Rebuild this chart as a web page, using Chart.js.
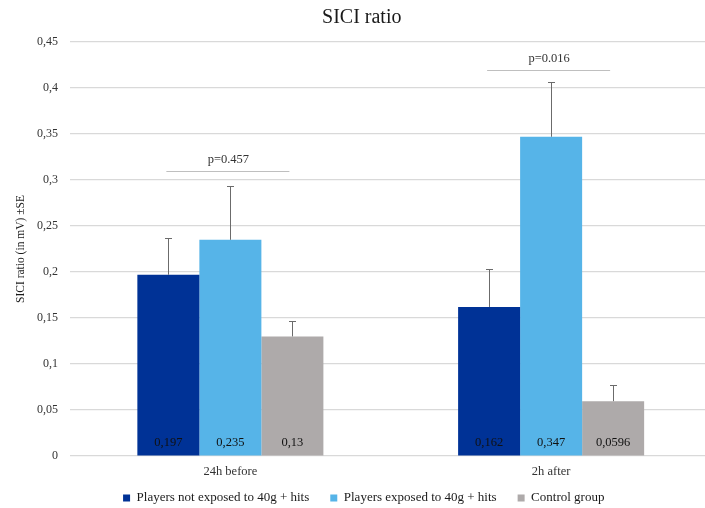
<!DOCTYPE html>
<html>
<head>
<meta charset="utf-8">
<script src="https://cdn.jsdelivr.net/npm/chart.js@4.4.1/dist/chart.umd.min.js"></script>
<style>
  html, body { margin: 0; padding: 0; background: #fff; overflow: hidden; }
  #wrap { width: 720px; height: 524px; }
</style>
</head>
<body>
<div id="wrap"><canvas id="chart"></canvas></div>
<script>
// Values
const categories = ['24h before', '2h after'];
const seriesNames = ['Players not exposed to 40g + hits', 'Players exposed to 40g + hits', 'Control group'];
const notExposed = [0.197, 0.162];
const exposed = [0.235, 0.347];
const control = [0.13, 0.0596];
// upper error (SE) for each bar
const notExposedErr = [0.04, 0.041];
const exposedErr = [0.059, 0.059];
const controlErr = [0.017, 0.018];
// p-value brackets, one per category
const pLabels = ['p=0.457', 'p=0.016'];
const pLevels = [0.31, 0.42];

const colors = ['#003296', '#56b4e8', '#aeaaaa'];
const serif = '"Liberation Serif", "Times New Roman", serif';

const fmt = (v) => String(+v.toFixed(4)).replace('.', ',');

// draws error bars, value labels and p brackets
const extras = {
  id: 'extras',
  afterLayout(chart) {
    // pull the legend up a bit, its label padding also pads vertically
    chart.legend.top -= 9.5;
    chart.legend.bottom -= 9.5;
    chart.legend.left += 8;
    chart.legend.right += 8;
    chart.titleBlock.left += 6;
    chart.titleBlock.right += 6;
  },
  afterDatasetsDraw(chart) {
    const ctx = chart.ctx;
    const y = chart.scales.y;
    const errs = [notExposedErr, exposedErr, controlErr];
    ctx.save();
    chart.data.datasets.forEach((ds, di) => {
      chart.getDatasetMeta(di).data.forEach((bar, i) => {
        const top = y.getPixelForValue(ds.data[i] + errs[di][i]);
        ctx.strokeStyle = '#6b6b6b';
        ctx.lineWidth = 1;
        ctx.beginPath();
        ctx.moveTo(Math.round(bar.x) + 0.5, bar.y);
        ctx.lineTo(Math.round(bar.x) + 0.5, Math.round(top));
        ctx.moveTo(Math.round(bar.x) - 3, Math.round(top) + 0.5);
        ctx.lineTo(Math.round(bar.x) + 4, Math.round(top) + 0.5);
        ctx.stroke();
        // value label near the base
        ctx.fillStyle = '#111';
        ctx.font = '12.5px ' + serif;
        ctx.textAlign = 'center';
        ctx.textBaseline = 'middle';
        ctx.fillText(fmt(ds.data[i]), bar.x, y.getPixelForValue(0) - 13);
      });
    });
    // p brackets from first to last bar of each group
    const first = chart.getDatasetMeta(0).data;
    const last = chart.getDatasetMeta(2).data;
    pLabels.forEach((label, i) => {
      const py = Math.round(y.getPixelForValue(pLevels[i])) + 0.5;
      ctx.strokeStyle = '#bfbfbf';
      ctx.lineWidth = 1.2;
      ctx.beginPath();
      ctx.moveTo(first[i].x - 2, py);
      ctx.lineTo(last[i].x - 3, py);
      ctx.stroke();
      ctx.fillStyle = '#333';
      ctx.font = '12.5px ' + serif;
      ctx.textAlign = 'center';
      ctx.textBaseline = 'middle';
      ctx.fillText(label, (first[i].x + last[i].x) / 2 - 2, py - 12);
    });
    ctx.restore();
  }
};

new Chart(document.getElementById('chart'), {
  type: 'bar',
  plugins: [extras],
  data: {
    labels: categories,
    datasets: [
      { label: seriesNames[0], data: notExposed, backgroundColor: colors[0] },
      { label: seriesNames[1], data: exposed, backgroundColor: colors[1] },
      { label: seriesNames[2], data: control, backgroundColor: colors[2] },
    ],
  },
  options: {
    responsive: true,
    maintainAspectRatio: false,
    animation: false,
    layout: { padding: { top: 0, right: 8.5, bottom: 0, left: 0 } },
    datasets: { bar: { barPercentage: 1, categoryPercentage: 0.58 } },
    plugins: {
      tooltip: { enabled: false },
      title: {
        display: true,
        text: 'SICI ratio',
        color: '#1a1a1a',
        font: { family: serif, size: 20, weight: 'normal' },
        padding: { top: 6, bottom: 12 },
      },
      legend: {
        position: 'bottom',
        labels: {
          color: '#1a1a1a',
          font: { family: serif, size: 13 },
          boxWidth: 7,
          boxHeight: 7,
          padding: 21,
        },
      },
    },
    scales: {
      x: {
        afterFit(scale) { scale.height = 24; },
        grid: { display: false, drawTicks: false },
        border: { display: false },
        ticks: { color: '#333', font: { family: serif, size: 12.5 }, padding: 8 },
      },
      y: {
        min: 0,
        max: 0.45,
        afterFit(scale) { scale.width = 70; },
        border: { display: false },
        grid: { color: '#d9d9d9', lineWidth: 1.2, drawTicks: false },
        ticks: {
          stepSize: 0.05,
          color: '#333',
          padding: 12,
          font: { family: serif, size: 12 },
          callback: (v) => fmt(v),
        },
        title: {
          display: true,
          text: 'SICI ratio (in mV) ±SE',
          color: '#1a1a1a',
          font: { family: serif, size: 11.5 },
          padding: { top: 14, bottom: 0 },
        },
      },
    },
  },
});
</script>
</body>
</html>
